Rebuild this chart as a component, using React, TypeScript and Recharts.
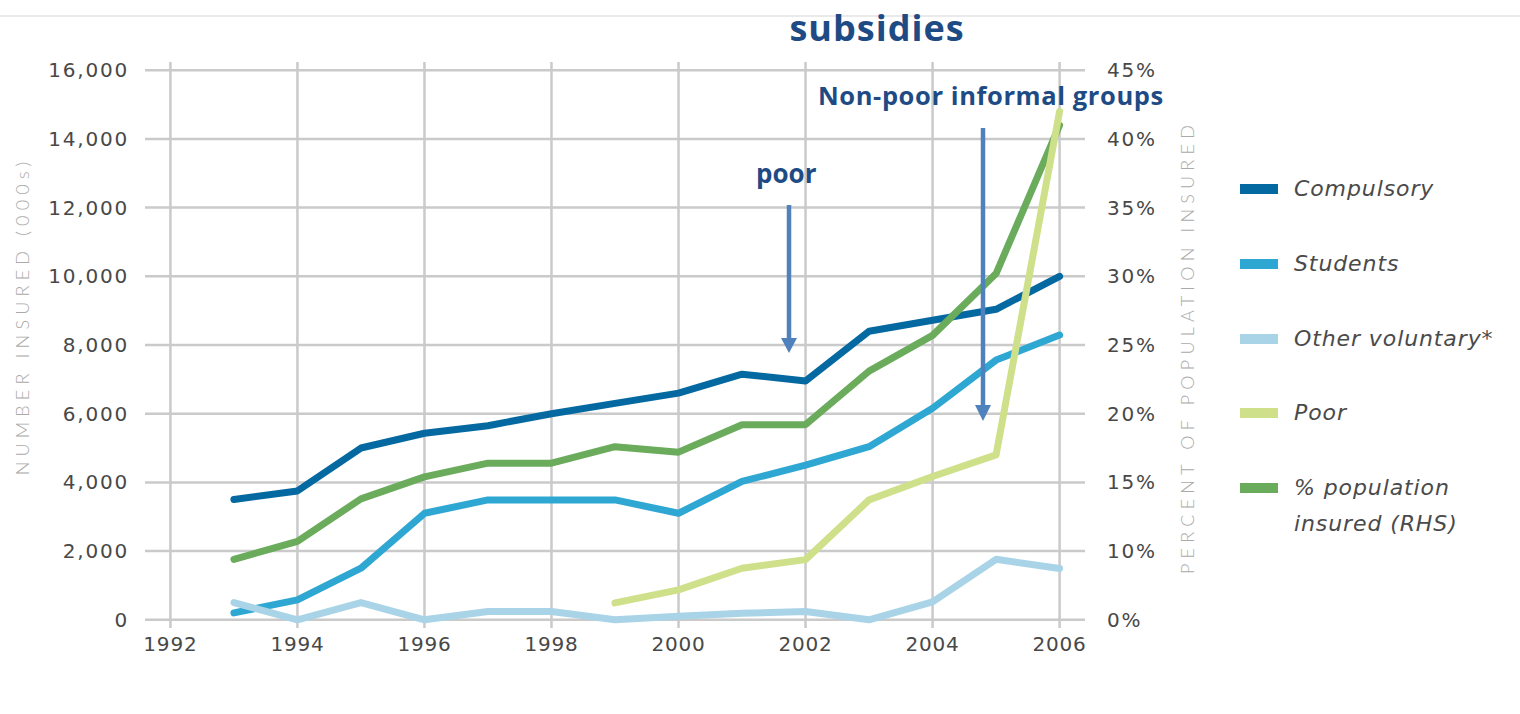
import React from 'react';
import { LineChart, Line, XAxis, YAxis, CartesianGrid, Legend } from 'recharts';

const years = [1993, 1994, 1995, 1996, 1997, 1998, 1999, 2000, 2001, 2002, 2003, 2004, 2005, 2006];
const compulsory = [3500, 3750, 5000, 5430, 5650, 6000, 6300, 6600, 7150, 6950, 8400, 8720, 9040, 10000];
const students = [200, 580, 1500, 3100, 3490, 3490, 3490, 3100, 4030, 4500, 5040, 6160, 7560, 8290];
const otherVoluntary = [500, 0, 500, 0, 240, 240, 0, 100, 190, 240, 0, 520, 1760, 1490];
const poor: (number | null)[] = [null, null, null, null, null, null, 490, 870, 1500, 1750, 3490, 4170, 4800, 14800];
const pctInsured = [9.4, 10.7, 13.8, 15.4, 16.4, 16.4, 17.6, 17.2, 19.2, 19.2, 23.1, 25.7, 30.2, 41.0];

const xTicks = [1992, 1994, 1996, 1998, 2000, 2002, 2004, 2006];
const leftTicks = [0, 2000, 4000, 6000, 8000, 10000, 12000, 14000, 16000];
const rightTicks = [5, 10, 15, 20, 25, 30, 35, 40, 45];
const rightTickLabels = ['0%', '10%', '15%', '20%', '25%', '30%', '35%', '40%', '45%'];

const seriesNames: Record<string, string> = {
  compulsory: 'Compulsory',
  students: 'Students',
  otherVoluntary: 'Other voluntary*',
  poor: 'Poor',
  pctInsured: '% population insured (RHS)',
};
const seriesColors: Record<string, string> = {
  compulsory: '#0569a1',
  students: '#2fa7d3',
  otherVoluntary: '#a9d4e7',
  poor: '#cfe08a',
  pctInsured: '#6aab5c',
};
const legendOrder = ['compulsory', 'students', 'otherVoluntary', 'poor', 'pctInsured'];

const data = years.map((year, i) => ({
  year,
  compulsory: compulsory[i],
  students: students[i],
  otherVoluntary: otherVoluntary[i],
  poor: poor[i] === null ? undefined : poor[i],
  pctInsured: pctInsured[i],
}));

const yTickStyle = {
  fill: '#484848',
  fontSize: 20,
  fontFamily: "'DejaVu Sans', sans-serif",
  letterSpacing: 1.8,
};
const xTickStyle = {
  fill: '#484848',
  fontSize: 20,
  fontFamily: "'DejaVu Sans', sans-serif",
  letterSpacing: 0.8,
};

const renderLegend = (props: any) => {
  const payload: any[] = props.payload || [];
  const byKey: Record<string, any> = {};
  payload.forEach((p) => {
    byKey[String(p.dataKey)] = p;
  });
  return (
    <div style={{ position: 'relative', width: 280, height: 420 }}>
      {legendOrder.map((key, i) => {
        const p = byKey[key];
        const color = p ? p.color : seriesColors[key];
        const label = p ? p.value : seriesNames[key];
        return (
          <div
            key={key}
            style={{ position: 'absolute', left: 0, top: i * 74.8, display: 'flex', alignItems: 'flex-start' }}
          >
            <div style={{ width: 38, height: 10, background: color, marginTop: 13, marginRight: 16 }} />
            <div
              style={{
                width: 212,
                fontFamily: "'DejaVu Sans', sans-serif",
                fontStyle: 'italic',
                fontSize: 22,
                lineHeight: '36px',
                letterSpacing: 0.9,
                color: '#4a4a4a',
              }}
            >
              {label}
            </div>
          </div>
        );
      })}
    </div>
  );
};

export default function App() {
  return (
    <div style={{ position: 'absolute', left: 0, top: 0, width: 1520, height: 714, background: '#fff', overflow: 'hidden' }}>
      <LineChart
        width={1520}
        height={714}
        data={data}
        margin={{ top: 62, right: 434, bottom: 85, left: 144 }}
      >
        <CartesianGrid
          yAxisId="left"
          stroke="#cacaca"
          strokeWidth={2.5}
          horizontalValues={leftTicks}
          verticalValues={xTicks}
        />
        <XAxis
          dataKey="year"
          type="number"
          domain={[1991.6, 2006.4]}
          allowDataOverflow
          ticks={xTicks}
          interval={0}
          height={1}
          tickLine={false}
          axisLine={false}
          tickSize={0}
          tickMargin={9}
          tick={xTickStyle}
        />
        <YAxis
          yAxisId="left"
          orientation="left"
          type="number"
          domain={[-240, 16240]}
          allowDataOverflow
          ticks={leftTicks}
          interval={0}
          width={1}
          tickLine={false}
          axisLine={false}
          tickSize={0}
          tickMargin={16}
          tick={yTickStyle}
          tickFormatter={(v: number) => v.toLocaleString('en-US')}
        />
        <YAxis
          yAxisId="right"
          orientation="right"
          type="number"
          domain={[4.4, 45.6]}
          allowDataOverflow
          ticks={rightTicks}
          interval={0}
          width={1}
          tickLine={false}
          axisLine={false}
          tickSize={0}
          tickMargin={22}
          tick={yTickStyle}
          tickFormatter={(v: number, i: number) => rightTickLabels[i] ?? `${v}%`}
        />
        <Legend
          layout="horizontal"
          verticalAlign="middle"
          align="center"
          content={renderLegend}
          wrapperStyle={{ position: 'absolute', left: 1240, top: 171, width: 280, height: 420 }}
        />
        <Line yAxisId="left" dataKey="compulsory" name={seriesNames.compulsory} stroke={seriesColors.compulsory} strokeWidth={7} strokeLinecap="round" strokeLinejoin="round" dot={false} activeDot={false} isAnimationActive={false} />
        <Line yAxisId="left" dataKey="students" name={seriesNames.students} stroke={seriesColors.students} strokeWidth={7} strokeLinecap="round" strokeLinejoin="round" dot={false} activeDot={false} isAnimationActive={false} />
        <Line yAxisId="left" dataKey="otherVoluntary" name={seriesNames.otherVoluntary} stroke={seriesColors.otherVoluntary} strokeWidth={7} strokeLinecap="round" strokeLinejoin="round" dot={false} activeDot={false} isAnimationActive={false} />
        <Line yAxisId="right" dataKey="pctInsured" name={seriesNames.pctInsured} stroke={seriesColors.pctInsured} strokeWidth={7} strokeLinecap="round" strokeLinejoin="round" dot={false} activeDot={false} isAnimationActive={false} />
        <Line yAxisId="left" dataKey="poor" name={seriesNames.poor} stroke={seriesColors.poor} strokeWidth={7} strokeLinecap="round" strokeLinejoin="round" dot={false} activeDot={false} isAnimationActive={false} />
      </LineChart>
      <svg
        width={1520}
        height={714}
        style={{ position: 'absolute', left: 0, top: 0, pointerEvents: 'none' }}
      >
        <line x1={0} y1={16} x2={1520} y2={16} stroke="#e3e3e3" strokeWidth={1.5} />
        <text x={877} y={41} textAnchor="middle" fontFamily="'Open Sans', sans-serif" fontWeight={700} fontSize={36} letterSpacing={1} fill="#1f4b84">subsidies</text>
        <text x={818} y={105} fontFamily="'Open Sans', sans-serif" fontWeight={700} fontSize={25.5} letterSpacing={0.6} fill="#1f4b84">Non-poor informal groups</text>
        <text x={756} y={183} fontFamily="'Open Sans', sans-serif" fontWeight={700} fontSize={26} fill="#1f4b84">poor</text>
        <line x1={789} y1={205} x2={789} y2={340} stroke="#4f81bd" strokeWidth={4.5} />
        <polygon points="781,338 797,338 789,353" fill="#4f81bd" />
        <line x1={983} y1={128} x2={983} y2={407} stroke="#4f81bd" strokeWidth={4.5} />
        <polygon points="975,405 991,405 983,421" fill="#4f81bd" />
        <text
          transform="translate(29,316) rotate(-90)"
          textAnchor="middle"
          fontFamily="Lato, sans-serif"
          fontWeight={300}
          fontSize={18}
          letterSpacing={5.2}
          fill="#aaaaaa"
        >
          NUMBER INSURED (000s)
        </text>
        <text
          transform="translate(1194,347) rotate(-90)"
          textAnchor="middle"
          fontFamily="Lato, sans-serif"
          fontWeight={300}
          fontSize={18}
          letterSpacing={5.2}
          fill="#aaaaaa"
        >
          PERCENT OF POPULATION INSURED
        </text>
      </svg>
    </div>
  );
}
